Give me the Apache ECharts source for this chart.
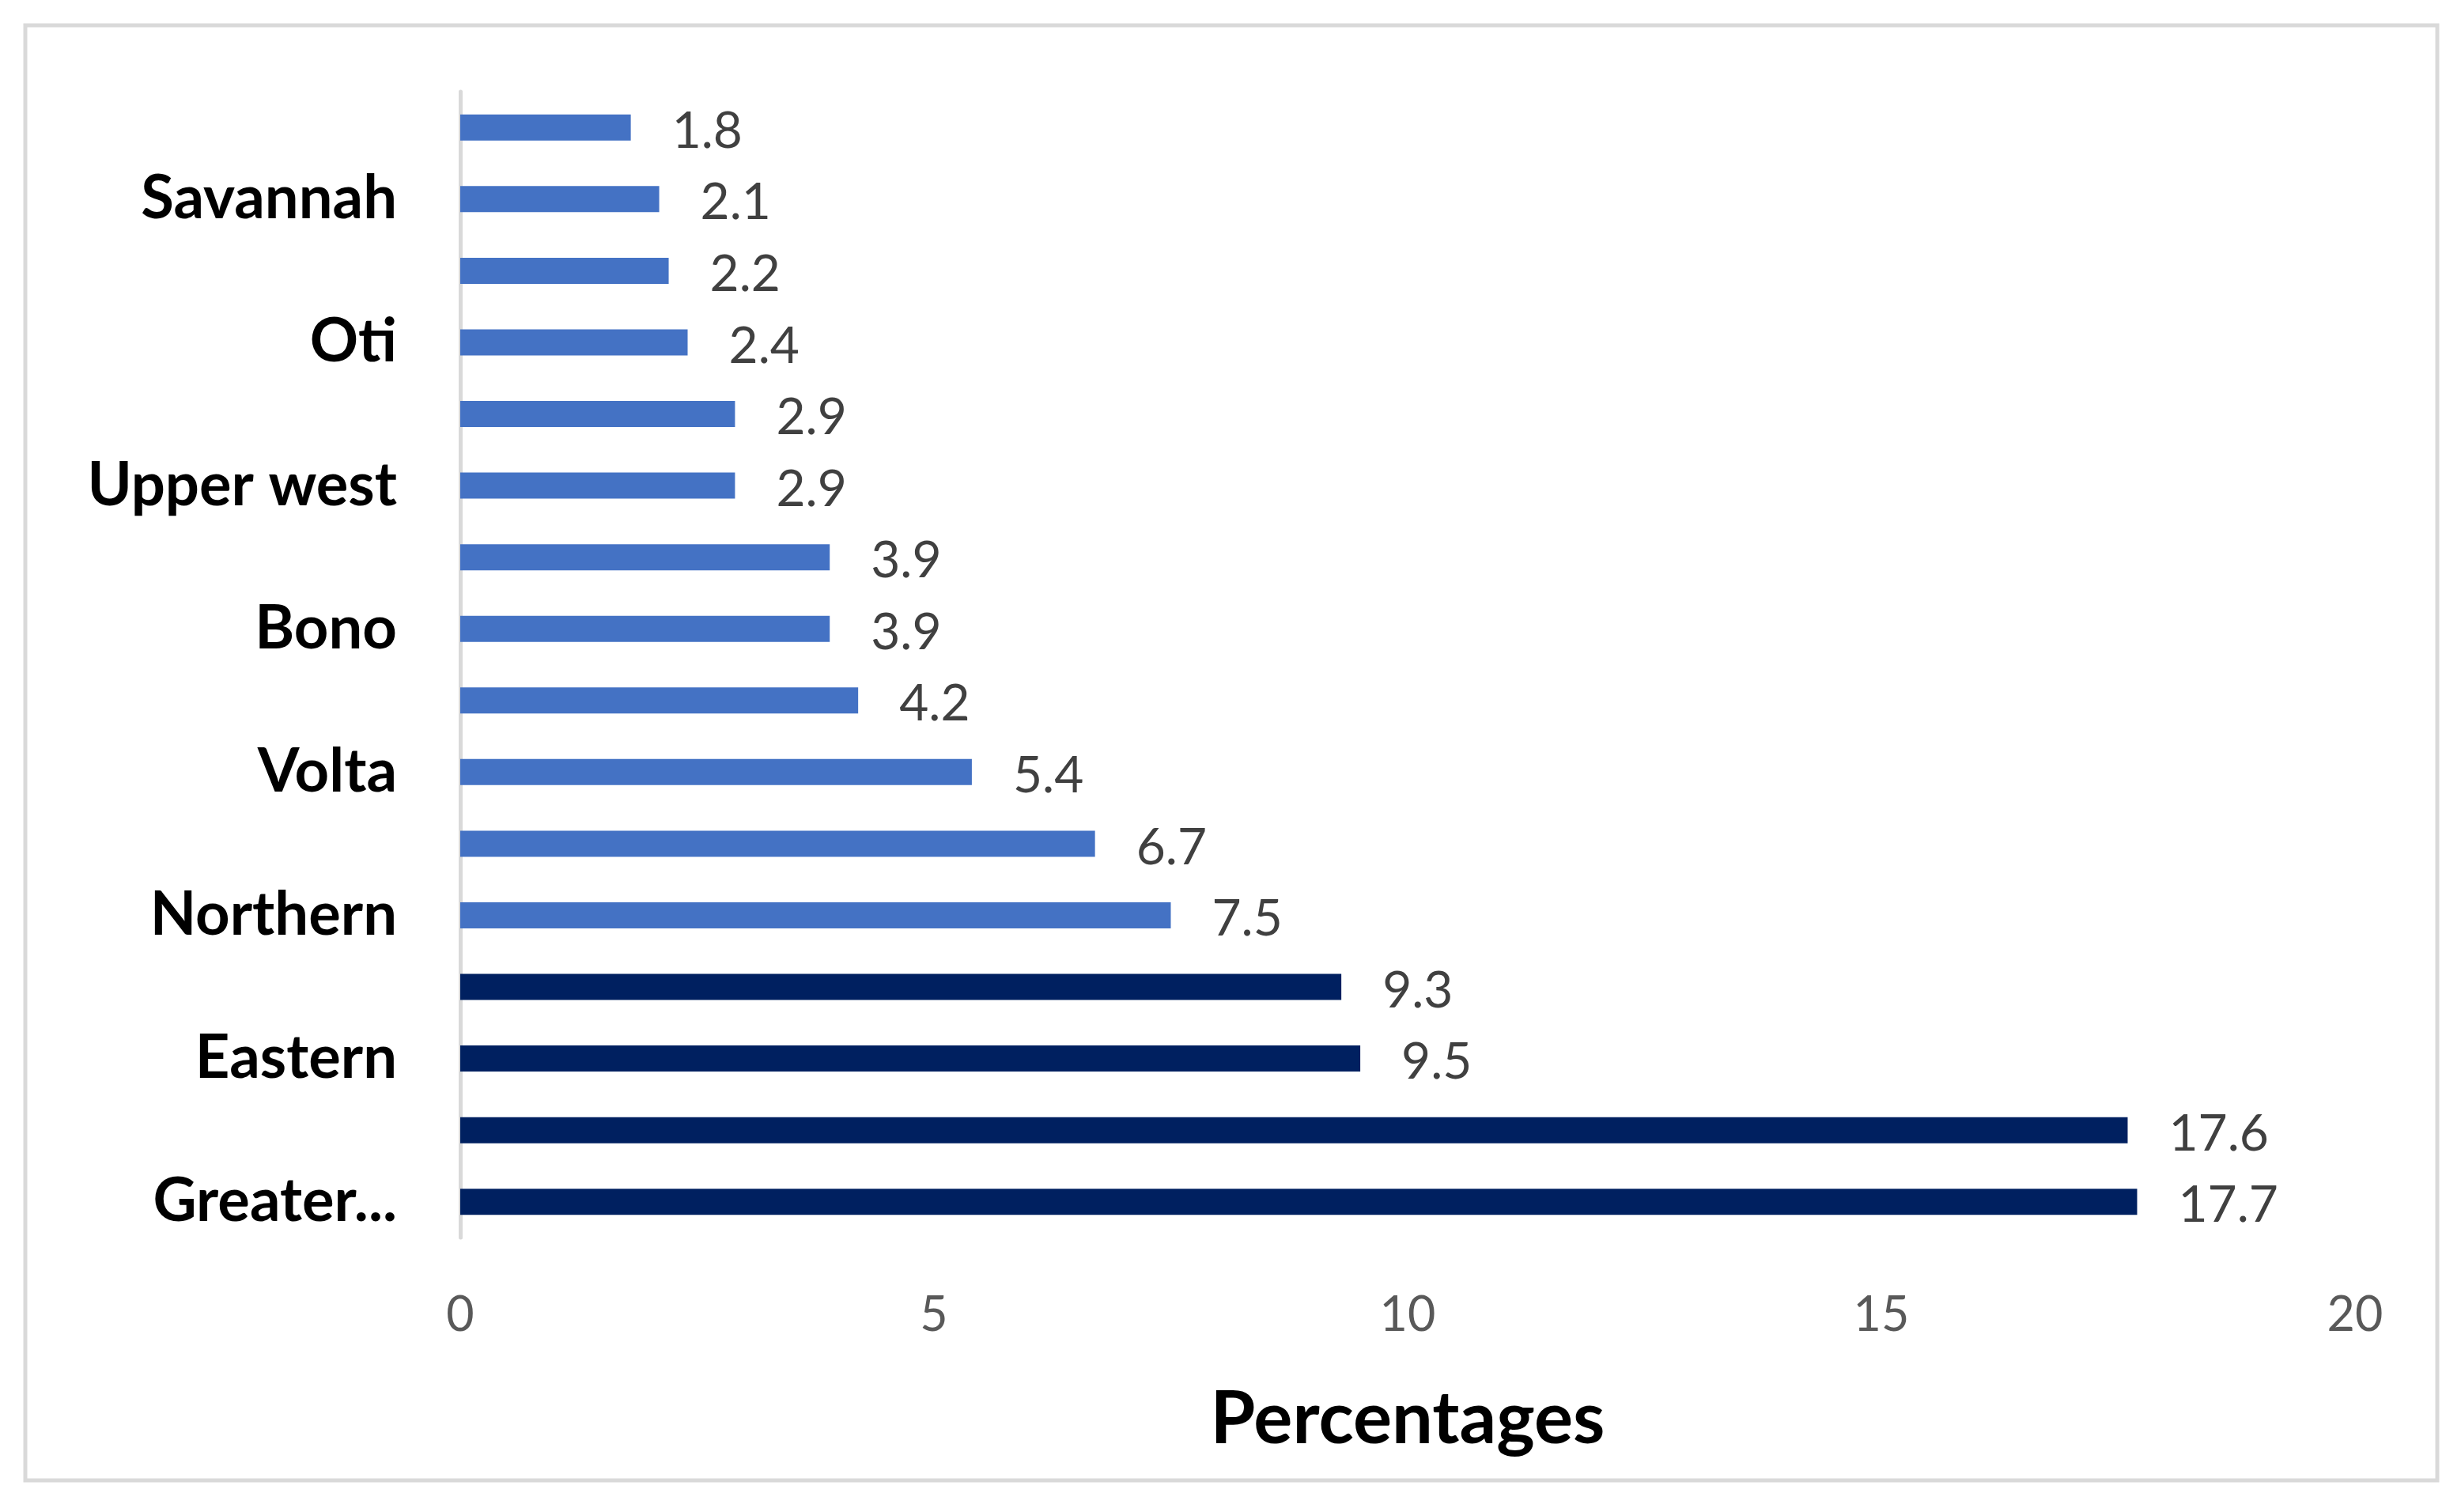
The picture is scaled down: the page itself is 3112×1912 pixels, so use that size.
<!DOCTYPE html>
<html>
<head>
<meta charset="utf-8">
<script src="https://cdn.jsdelivr.net/npm/echarts@6/dist/echarts.min.js"></script>
<style>
html,body{margin:0;padding:0;background:#fff;}
#chart{width:3112px;height:1912px;}
</style>
</head>
<body>
<div id="chart"></div>
<script>
// Regions listed from bottom of the chart to the top
const regions = ["Greater Accra","Ashanti","Eastern","Central","Northern","Western","Volta","Upper East","Bono","Bono East","Upper west","Western North","Oti","North East","Savannah","Ahafo"];
const percentages = [17.7,17.6,9.5,9.3,7.5,6.7,5.4,4.2,3.9,3.9,2.9,2.9,2.4,2.2,2.1,1.8];
const xTicks = [0,5,10,15,20];
const highlightCount = 4;

const chart = echarts.init(document.getElementById('chart'), null, {renderer:'canvas'});
const FONT = 'Lato';
chart.setOption({
  backgroundColor:'#ffffff',
  animation:false,
  graphic:[{
    type:'rect',
    shape:{x:32,y:32,width:3050,height:1840},
    style:{fill:'none',stroke:'#d9d9d9',lineWidth:5},
    z:-1
  }],
  grid:{left:582,right:134,top:116,bottom:347,containLabel:false},
  xAxis:{
    type:'value',
    min:xTicks[0],max:xTicks[xTicks.length-1],interval:xTicks[1]-xTicks[0],
    axisLine:{show:false},axisTick:{show:false},splitLine:{show:false},
    axisLabel:{color:'#595959',fontFamily:FONT,fontSize:61,margin:68},
    name:'Percentages',nameLocation:'middle',nameGap:184,
    nameTextStyle:{color:'#000',fontFamily:FONT,fontWeight:'bold',fontSize:92}
  },
  yAxis:{
    type:'category',
    data:regions,
    axisLine:{show:true,lineStyle:{color:'#d9d9d9',width:5}},
    axisTick:{show:false},
    axisLabel:{
      interval:1,color:'#000',fontFamily:FONT,fontWeight:'bold',fontSize:76,margin:80,
      formatter:v=> v.length>12 ? v.split(' ')[0]+'...' : v
    }
  },
  series:[{
    type:'bar',
    data:percentages,
    barWidth:33,
    itemStyle:{color:p=> p.dataIndex<highlightCount ? '#002060' : '#4472c4'},
    label:{show:true,position:'right',distance:52,offset:[0,5],color:'#404040',fontFamily:FONT,fontSize:64}
  }]
});
</script>
</body>
</html>
